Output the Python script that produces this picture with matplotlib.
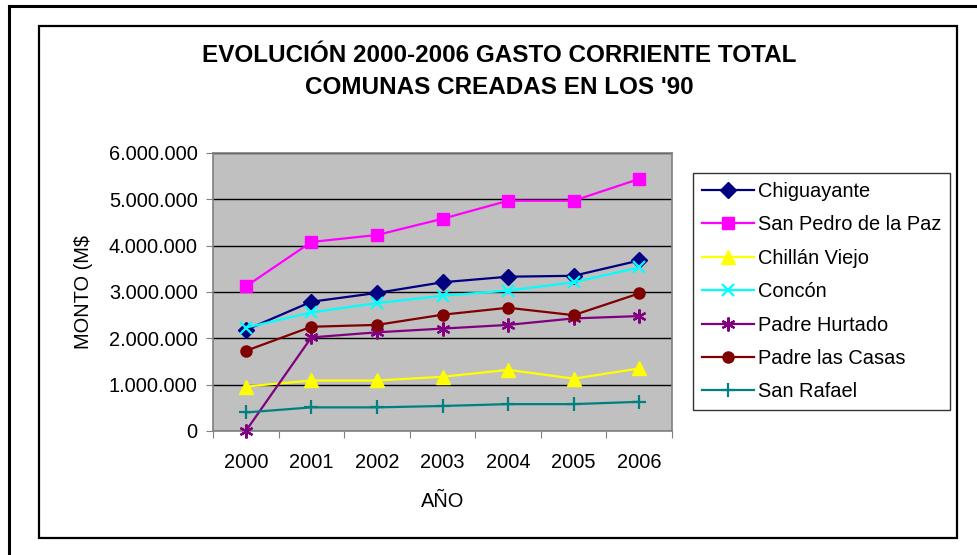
import matplotlib.pyplot as plt
import matplotlib.patches as patches
import numpy as np
from matplotlib.ticker import FuncFormatter

plt.rcParams['font.family'] = ['Liberation Sans', 'DejaVu Sans']

# Data (M$).
years = ['2000', '2001', '2002', '2003', '2004', '2005', '2006']
chiguayante = [2180000, 2790000, 2980000, 3210000, 3330000, 3350000, 3680000]
san_pedro = [3120000, 4080000, 4230000, 4580000, 4970000, 4970000, 5440000]
chillan_viejo = [960000, 1090000, 1090000, 1170000, 1320000, 1130000, 1350000]
concon = [2230000, 2560000, 2760000, 2920000, 3030000, 3210000, 3530000]
padre_hurtado = [0, 2020000, 2130000, 2210000, 2290000, 2430000, 2480000]
padre_las_casas = [1730000, 2250000, 2290000, 2510000, 2660000, 2500000, 2970000]
san_rafael = [400000, 510000, 510000, 540000, 580000, 580000, 630000]

series = [
    ('Chiguayante', chiguayante, '#000080', 'D', 8),
    ('San Pedro de la Paz', san_pedro, '#FF00FF', 's', 8),
    ('Chillán Viejo', chillan_viejo, '#FFFF00', '^', 10),
    ('Concón', concon, '#00FFFF', 'x', 9),
    ('Padre Hurtado', padre_hurtado, '#800080', (6, 2, 0), 10),
    ('Padre las Casas', padre_las_casas, '#800000', 'o', 8),
    ('San Rafael', san_rafael, '#008080', '+', 10),
]

W, H = 977, 555
figure = plt.figure(figsize=(W / 100, H / 100), dpi=100)


def px(x0, y0, x1, y1):
    # Convert a pixel box (top-left origin) to figure fractions.
    return [x0 / W, 1 - y1 / H, (x1 - x0) / W, (y1 - y0) / H]


# Outer and inner frames.
figure.add_artist(plt.Line2D([8.5 / W, 1], [1 - 5.5 / H] * 2,
                             color='black', lw=2.2, transform=figure.transFigure))
figure.add_artist(plt.Line2D([8.5 / W] * 2, [0, 1 - 5.5 / H],
                             color='black', lw=2.2, transform=figure.transFigure))
figure.add_artist(patches.Rectangle((38.5 / W, 1 - 537.5 / H),
                                    918 / W, 512 / H,
                                    fill=False, edgecolor='black', lw=1.6,
                                    transform=figure.transFigure))

axes = figure.add_axes(px(213, 153, 672, 431))
axes.set_facecolor('#C0C0C0')

x = np.arange(len(years))
for name, values, color, marker, size in series:
    thin = marker in ('D', 's', '^', 'o')
    axes.plot(x, values, color=color, lw=1.6, marker=marker,
              markersize=size, markeredgewidth=1 if thin else 1.6,
              markeredgecolor=color, label=name, clip_on=False, zorder=3)

axes.set_xlim(-0.5, len(years) - 0.5)
axes.set_ylim(0, 6000000)
axes.set_yticks(np.arange(0, 6000001, 1000000))
axes.yaxis.set_major_formatter(
    FuncFormatter(lambda v, p: f'{int(v):,}'.replace(',', '.')))
axes.yaxis.grid(True, color='black', lw=1)
axes.set_axisbelow(True)

# Category ticks sit between the years; the year labels are centred.
axes.set_xticks(np.arange(-0.5, len(years), 1))
axes.set_xticklabels([])
axes.set_xticks(x, minor=True)
axes.set_xticklabels(years, minor=True)
axes.tick_params(axis='x', which='minor', length=0, pad=16, labelsize=14.4)
axes.tick_params(axis='x', which='major', length=5, color='#808080')
axes.tick_params(axis='y', length=5, color='#808080', pad=6, labelsize=14.4)

for spine in axes.spines.values():
    spine.set_color('#808080')
    spine.set_linewidth(1.2)

axes.set_xlabel('AÑO', fontsize=14.4, labelpad=14)
axes.set_ylabel('MONTO (M$', fontsize=14.4, labelpad=11)

figure.text(499 / W, 1 - 56 / H, 'EVOLUCIÓN 2000-2006 GASTO CORRIENTE TOTAL',
            ha='center', va='center', fontsize=17.5, fontweight='bold')
figure.text(499 / W, 1 - 88 / H, "COMUNAS CREADAS EN LOS '90",
            ha='center', va='center', fontsize=17.5, fontweight='bold')

legend = figure.legend(loc='upper left', bbox_to_anchor=(693 / W, 1 - 173 / H),
                       bbox_transform=figure.transFigure, frameon=True,
                       fancybox=False, edgecolor='black', fontsize=14.4,
                       handlelength=2.6, handletextpad=0.2, labelspacing=0.72,
                       borderpad=0.45, borderaxespad=0)
legend.get_frame().set_linewidth(1)

figure.savefig('out.png', dpi=100)
